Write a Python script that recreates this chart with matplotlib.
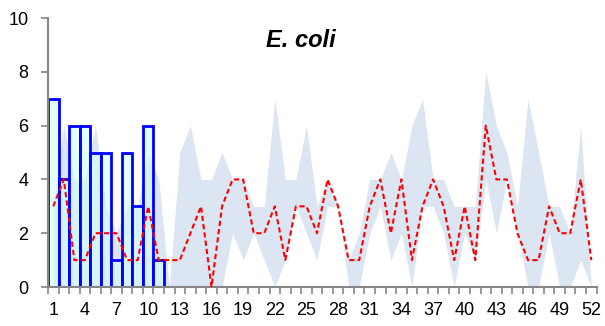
import numpy as np
import matplotlib
matplotlib.use('Agg')
import matplotlib.pyplot as plt
from matplotlib.ticker import FixedLocator

weeks = list(range(1, 53))

# counts this year (only first 11 weeks reported)
bar_weeks = list(range(1, 12))
bar_counts = [7, 4, 6, 6, 5, 5, 1, 5, 3, 6, 1]

# red dashed line (average of previous years)
avg_counts = [3, 4, 1, 1, 2, 2, 2, 1, 1, 3, 1, 1, 1, 2, 3, 0, 3, 4, 4, 2,
              2, 3, 1, 3, 3, 2, 4, 3, 1, 1, 3, 4, 2, 4, 1, 3, 4, 3, 1, 3,
              1, 6, 4, 4, 2, 1, 1, 3, 2, 2, 4, 1]

# shaded range (min / max of previous years)
range_high = [3, 6, 4, 4, 6, 3, 2, 3, 3, 5, 4, 0, 5, 6, 4, 4, 5, 4, 4, 3,
              3, 7, 4, 4, 6, 3, 4, 3, 1, 2, 4, 4, 5, 4, 6, 7, 4, 4, 3, 3,
              3, 8, 6, 5, 3, 7, 5, 3, 3, 2, 6, 0]
range_low = [0, 0, 0, 0, 0, 0, 0, 0, 0, 0, 0, 0, 0, 0, 0, 0, 0, 2, 1, 2,
             1, 0, 1, 3, 2, 1, 3, 3, 0, 0, 2, 3, 1, 2, 0, 3, 3, 2, 0, 2,
             1, 4, 2, 4, 2, 0, 0, 2, 0, 0, 1, 0]

label_weeks = list(range(1, 53, 3))

plt.rcParams['font.family'] = ['Liberation Sans', 'DejaVu Sans']

fig = plt.figure(figsize=(6.05, 3.26), dpi=100)
ax = fig.add_axes([0.0793, 0.1196, 0.9068, 0.825])

ax.fill_between(weeks, range_low, range_high, color='#dce6f2', lw=0, zorder=1)
ax.bar(bar_weeks, bar_counts, width=1.0, facecolor=(0.82, 1.0, 1.0, 0.6),
       edgecolor='#0000ff', linewidth=2.0, zorder=2)
ax.plot(weeks, avg_counts, color='#ff0000', lw=1.5, ls=(0, (2.5, 1.5)), zorder=3)

ax.set_xlim(0.5, 52.5)
ax.set_ylim(0, 10)
ax.set_yticks([0, 2, 4, 6, 8, 10])
ax.set_xticks(label_weeks)
ax.xaxis.set_minor_locator(FixedLocator(np.arange(0.5, 53, 1)))

for s in ['top', 'right']:
    ax.spines[s].set_visible(False)
for s in ['left', 'bottom']:
    ax.spines[s].set_color('#868686')
    ax.spines[s].set_linewidth(1.5)

ax.tick_params(axis='y', length=5, width=1.2, color='#868686', pad=9, labelsize=13)
ax.tick_params(axis='x', which='major', length=0, pad=11, labelsize=13)
ax.tick_params(axis='x', which='minor', length=5, width=1.2, color='#868686')

fig.text(0.497, 0.876, 'E. coli', ha='center', va='center', fontsize=17,
         fontweight='bold', fontstyle='italic')

fig.savefig('out.png', dpi=100)
